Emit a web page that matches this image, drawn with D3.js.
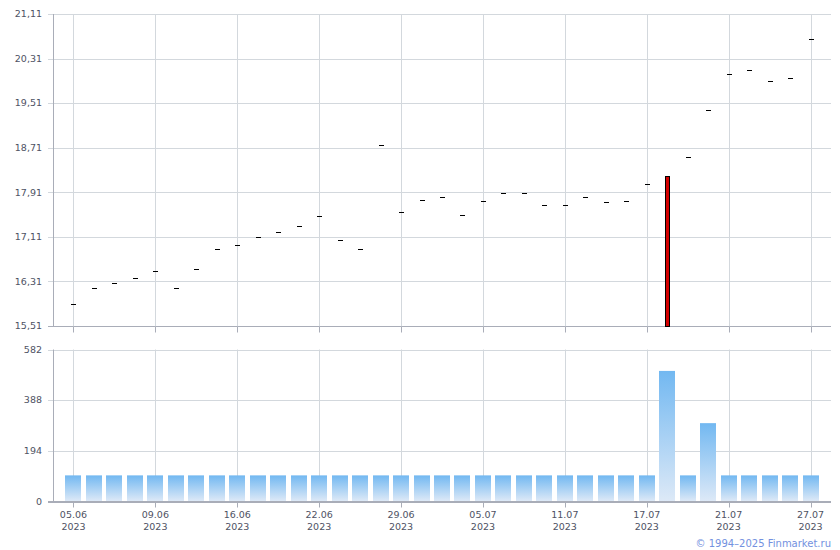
<!DOCTYPE html>
<html><head><meta charset="utf-8">
<script src="https://cdn.jsdelivr.net/npm/d3@7"></script>
<style>
html,body{margin:0;padding:0;background:#fff;}
svg text{font-family:"DejaVu Sans",Verdana,sans-serif;}
</style></head>
<body>
<svg id="chart" width="840" height="550"></svg>
<script>
const dates = ["05.06.2023","06.06.2023","07.06.2023","08.06.2023","09.06.2023","13.06.2023","14.06.2023","15.06.2023","16.06.2023","19.06.2023","20.06.2023","21.06.2023","22.06.2023","23.06.2023","26.06.2023","27.06.2023","29.06.2023","30.06.2023","03.07.2023","04.07.2023","05.07.2023","06.07.2023","07.07.2023","10.07.2023","11.07.2023","12.07.2023","13.07.2023","14.07.2023","17.07.2023","18.07.2023","19.07.2023","20.07.2023","21.07.2023","24.07.2023","25.07.2023","26.07.2023","27.07.2023"];
const openVals  = [15.90,16.20,16.28,16.38,16.49,16.19,16.53,16.90,16.96,17.10,17.19,17.31,17.48,17.05,16.89,18.75,17.55,17.77,17.82,17.51,17.75,17.89,17.89,17.69,17.69,17.82,17.73,17.75,18.05,18.20,18.54,19.38,20.03,20.10,19.90,19.97,20.67];
const closeVals = [15.90,16.20,16.28,16.38,16.49,16.19,16.53,16.90,16.96,17.10,17.19,17.31,17.48,17.05,16.89,18.75,17.55,17.77,17.82,17.51,17.75,17.89,17.89,17.69,17.69,17.82,17.73,17.75,18.05,15.51,18.54,19.38,20.03,20.10,19.90,19.97,20.67];
const volumes = [100,100,100,100,100,100,100,100,100,100,100,100,100,100,100,100,100,100,100,100,100,100,100,100,100,100,100,100,100,500,100,300,100,100,100,100,100];
const labelIdx = [0,4,8,12,16,20,24,28,32,36];
const priceTicks = [15.51,16.31,17.11,17.91,18.71,19.51,20.31,21.11];
const volTicks = [0,194,388,582];

const svg = d3.select("#chart");
const L = 53, R = 831;
const gridC = "#d3d8dd", axisC = "#a9adb8", textC = "#4e5263";

const x = d3.scalePoint().domain(dates).range([L, R]).padding(1);
const yP = d3.scaleLinear().domain([15.51, 21.11]).range([326, 14]);
const yV = d3.scaleLinear().domain([0, 582]).range([501.5, 349.5]);
const labelDates = labelIdx.map(i => dates[i]);
const fmtP = d => d.toFixed(2).replace(".", ",");

function panel(y, ticks, fmt, top, bottom) {
  const g = svg.append("g");
  // horizontal grid
  g.selectAll("line.h").data(ticks).join("line")
    .attr("x1", L - 5).attr("x2", R)
    .attr("y1", d => Math.round(y(d)) + 0.5).attr("y2", d => Math.round(y(d)) + 0.5)
    .attr("stroke", d => d === ticks[0] ? axisC : gridC).attr("stroke-width", 1);
  // vertical grid
  g.selectAll("line.v").data(labelDates).join("line")
    .attr("x1", d => Math.round(x(d)) + 0.5).attr("x2", d => Math.round(x(d)) + 0.5)
    .attr("y1", top).attr("y2", bottom)
    .attr("stroke", gridC);
  // bottom ticks
  g.selectAll("line.t").data(labelDates).join("line")
    .attr("x1", d => Math.round(x(d)) + 0.5).attr("x2", d => Math.round(x(d)) + 0.5)
    .attr("y1", bottom).attr("y2", bottom + 6)
    .attr("stroke", axisC);
  // left axis line
  g.append("line").attr("x1", L + 0.5).attr("x2", L + 0.5).attr("y1", top).attr("y2", bottom + 0.5)
    .attr("stroke", axisC);
  // labels
  g.selectAll("text.y").data(ticks).join("text")
    .attr("x", 42).attr("y", d => y(d)).attr("dy", "0.35em")
    .attr("text-anchor", "end").attr("font-size", 9.5).attr("fill", textC)
    .text(fmt);
  return g;
}

panel(yP, priceTicks, fmtP, 14, 326.5);

// price marks
const gP = svg.append("g");
dates.forEach((d, i) => {
  const o = openVals[i], c = closeVals[i];
  const cx = Math.round(x(d));
  if (Math.abs(o - c) < 1e-9) {
    gP.append("line").attr("x1", cx - 2).attr("x2", cx + 3)
      .attr("y1", Math.round(yP(o)) + 0.5).attr("y2", Math.round(yP(o)) + 0.5)
      .attr("stroke", "#000").attr("stroke-width", 1);
  } else {
    const yt = yP(Math.max(o, c)), yb = yP(Math.min(o, c));
    gP.append("rect").attr("x", cx - 1.5).attr("width", 4)
      .attr("y", Math.round(yt) + 0.5).attr("height", Math.round(yb) - Math.round(yt))
      .attr("fill", c < o ? "#d40000" : "#ffffff").attr("stroke", "#000").attr("stroke-width", 1);
  }
});

// volume panel
const defs = svg.append("defs");
const grad = defs.append("linearGradient").attr("id", "vg").attr("x1", 0).attr("y1", 0).attr("x2", 0).attr("y2", 1);
grad.append("stop").attr("offset", "0%").attr("stop-color", "#72b8f1");
grad.append("stop").attr("offset", "100%").attr("stop-color", "#dde9f7");

const gV = panel(yV, volTicks, d => d, 349.5, 501.5);
const bw = 16;
svg.append("g").selectAll("rect").data(dates).join("rect")
  .attr("x", d => Math.round(x(d)) - bw / 2)
  .attr("width", bw)
  .attr("y", (d, i) => yV(volumes[i]))
  .attr("height", (d, i) => yV(0) - 0.5 - yV(volumes[i]))
  .attr("fill", "url(#vg)");
// redraw axis bottom line over bars
svg.append("line").attr("x1", L - 5).attr("x2", R).attr("y1", 501.5).attr("y2", 501.5).attr("stroke", axisC);

// x labels
const gx = svg.append("g");
labelDates.forEach(d => {
  const parts = d.split(".");
  gx.append("text").attr("x", x(d)).attr("y", 518).attr("text-anchor", "middle")
    .attr("font-size", 9.5).attr("fill", textC).text(parts[0] + "." + parts[1]);
  gx.append("text").attr("x", x(d)).attr("y", 529.5).attr("text-anchor", "middle")
    .attr("font-size", 9.5).attr("fill", textC).text(parts[2]);
});

svg.append("text").attr("x", 831).attr("y", 546.5).attr("text-anchor", "end")
  .attr("font-size", 10).attr("fill", "#7391e0").text("© 1994–2025 Finmarket.ru");
</script>
</body></html>
